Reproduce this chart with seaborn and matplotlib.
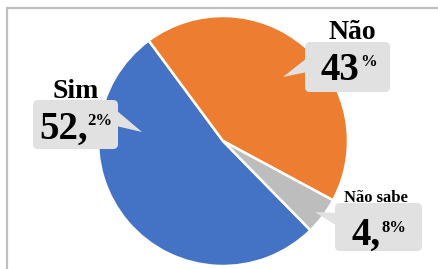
import matplotlib
matplotlib.use("Agg")
import matplotlib.pyplot as plt
import seaborn as sns
from matplotlib.patches import FancyBboxPatch, Polygon
from matplotlib.lines import Line2D

# ---- data ----
categories = ["Sim", "Não", "Não sabe"]
values = [52.2, 43.0, 4.8]
colors = ["#4472C4", "#ED7D31", "#BDBDBD"]

sns.set_theme(style="white")
plt.rcParams["font.family"] = ["Liberation Serif", "DejaVu Serif"]

W, H = 439, 269
fig = plt.figure(figsize=(W / 100, H / 100), dpi=100)
fig.patch.set_facecolor("white")

# pie axes
cx, cy, r = 223, 141, 125
ax = fig.add_axes([(cx - r) / W, (H - cy - r) / H, 2 * r / W, 2 * r / H])
ax.pie(values, colors=colors, startangle=314.4, counterclock=False,
       wedgeprops=dict(edgecolor="white", linewidth=1.8))
ax.set_xlim(-1, 1)
ax.set_ylim(-1, 1)
ax.axis("off")

# overlay axes in pixel coords
ov = fig.add_axes([0, 0, 1, 1])
ov.set_xlim(0, W)
ov.set_ylim(H, 0)
ov.axis("off")
ov.patch.set_alpha(0)

# frame border (cropped)
border = "#BFBFBF"
ov.add_line(Line2D([7, W + 5], [8, 8], color=border, lw=1.6))
ov.add_line(Line2D([7, 7], [8, H + 5], color=border, lw=1.6))

# label layout: box, name pos/size, big pos, small top, pointer polygon
layout = {
    "Sim": dict(box=(33, 100, 118, 149), name=(76, 98, 20),
                big=(39, 139), small_top=113,
                ptr=[(116, 110), (142, 132), (116, 126)]),
    "Não": dict(box=(305, 42, 390, 92), name=(352, 39, 20),
                big=(321, 80), small_top=54,
                ptr=[(307, 58), (283, 77), (307, 72)]),
    "Não sabe": dict(box=(335, 203, 422, 251), name=(376, 202, 12),
                     big=(352, 245), small_top=220,
                     ptr=[(337, 213), (315, 212), (337, 226)]),
}

boxcol = "#E1E1E1"
fig.canvas.draw()
renderer = fig.canvas.get_renderer()
inv = ov.transData.inverted()
for cat, val in zip(categories, values):
    L = layout[cat]
    x0, y0, x1, y1 = L["box"]
    ov.add_patch(Polygon(L["ptr"], closed=True, facecolor=boxcol,
                         edgecolor="none", zorder=3))
    ov.add_patch(FancyBboxPatch((x0, y0), x1 - x0, y1 - y0,
                                boxstyle="round,pad=0,rounding_size=5",
                                facecolor=boxcol, edgecolor="none", zorder=3))
    nx, ny, ns = L["name"]
    ov.text(nx, ny, cat, ha="center", va="baseline", fontsize=ns,
            fontweight="bold", color="black", zorder=4)
    s = f"{val:.1f}".replace(".", ",")
    ip, dp = s.split(",")
    if dp == "0":
        big, small = ip, "%"
    else:
        big, small = ip + ",", dp + "%"
    bx, by = L["big"]
    tb = ov.text(bx, by, big, ha="left", va="baseline", fontsize=28,
                 fontweight="bold", color="black", zorder=4)
    ext = tb.get_window_extent(renderer=renderer)
    right = inv.transform((ext.x1, ext.y0))[0]
    ov.text(right, L["small_top"], small, ha="left", va="top",
            fontsize=12, fontweight="bold", color="black", zorder=4)

fig.savefig("out.png", dpi=100)
